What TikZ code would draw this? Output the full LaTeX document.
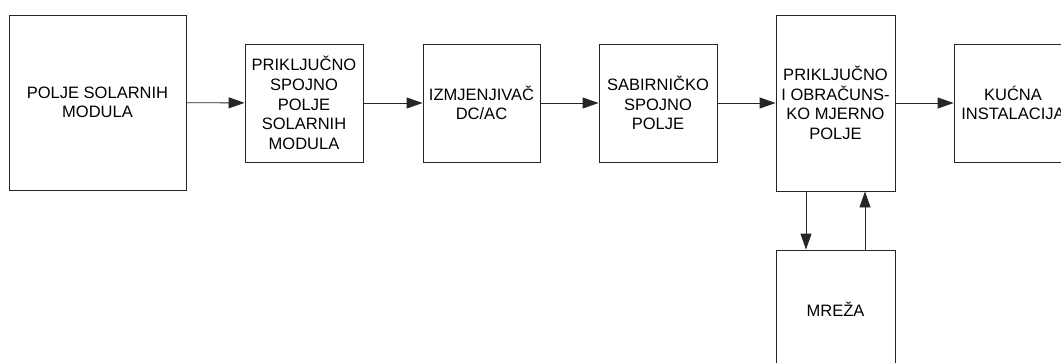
\documentclass[tikz,border=0pt]{standalone}
\usepackage{fontspec}
\setmainfont{Liberation Sans}
\usetikzlibrary{arrows.meta}
\tikzset{
  blk/.style={draw=black!85, line width=0.9pt, fill=white, align=center,
    inner sep=0pt, font=\fontsize{16.5}{19.6}\selectfont},
  flow/.style={draw=black!85, line width=0.9pt,
    -{Triangle[length=16pt,width=11pt]}}
}
\begin{document}
\begin{tikzpicture}[x=1pt,y=-1pt]
  \useasboundingbox (0,0) rectangle (1061,362);
  \clip (0,0) rectangle (1061,362);
  % main chain of blocks
  \node[blk, minimum width=177pt, minimum height=175pt] (polje) at (97.5,102.5)
    {POLJE SOLARNIH\\MODULA};
  \node[blk, minimum width=118pt, minimum height=118pt] (prik) at (304,103)
    {PRIKLJUČNO\\SPOJNO\\POLJE\\SOLARNIH\\MODULA};
  \node[blk, minimum width=117pt, minimum height=118pt] (izm) at (481.5,103)
    {IZMJENJIVAČ\\DC/AC};
  \node[blk, minimum width=118pt, minimum height=118pt] (sab) at (658,103)
    {SABIRNIČKO\\SPOJNO\\POLJE};
  \node[blk, minimum width=119pt, minimum height=176pt] (mjer) at (835.5,103)
    {PRIKLJUČNO\\I OBRAČUNS-\\KO MJERNO\\POLJE};
  \node[blk, minimum width=118pt, minimum height=118pt] (kuc) at (1013,103)
    {KUĆNA\\INSTALACIJA};
  \node[blk, minimum width=119pt, minimum height=118pt] (mreza) at (835.5,309)
    {MREŽA};
  % connectors
  \draw[flow] (polje) -- (prik);
  \draw[flow] (prik) -- (izm);
  \draw[flow] (izm) -- (sab);
  \draw[flow] (sab) -- (mjer);
  \draw[flow] (mjer) -- (kuc);
  \draw[flow] ([xshift=-29.5pt]mjer.south) -- ([xshift=-29.5pt]mreza.north);
  \draw[flow] ([xshift=29.5pt]mreza.north) -- ([xshift=29.5pt]mjer.south);
\end{tikzpicture}
\end{document}
